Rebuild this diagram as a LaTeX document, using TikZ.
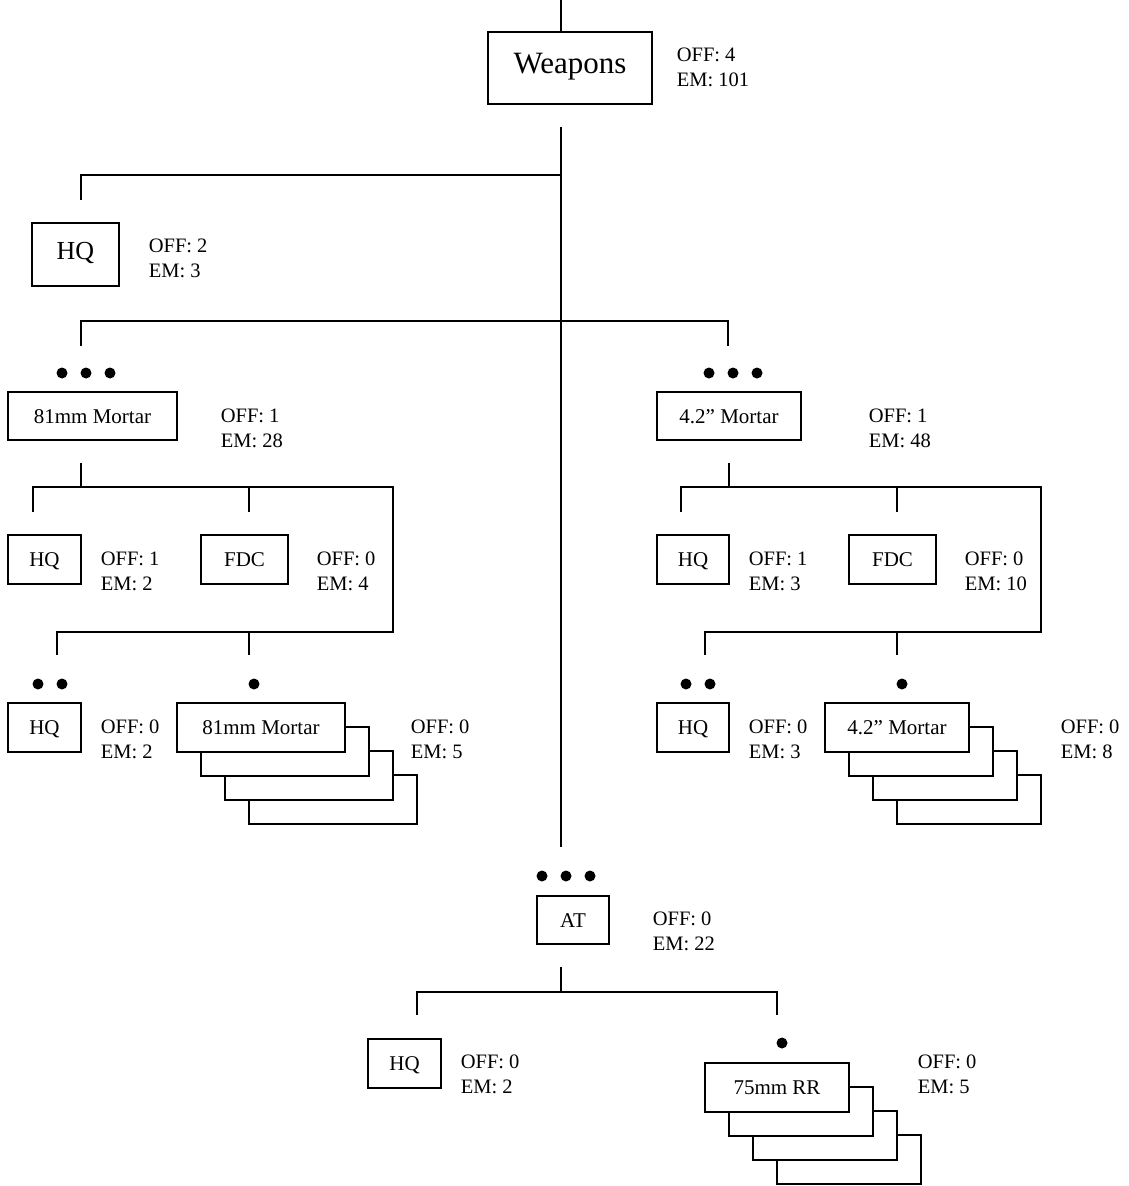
\documentclass[tikz,border=0pt]{standalone}
\usepackage{fontspec}
\setmainfont{Liberation Serif}
\usetikzlibrary{positioning}
\begin{document}
\begin{tikzpicture}[
  x=1pt, y=-1pt,
  line width=1.6pt,
  unitbox/.style={draw, fill=white, inner sep=0pt, minimum height=49pt, text height=14pt, text depth=0pt, font=\fontsize{21}{25}\selectfont},
  tally/.style={anchor=base west, align=left, inner sep=0pt, font=\fontsize{20.5}{25}\selectfont}
]
\useasboundingbox (0,0) rectangle (1128,1186);

% top level
\node[unitbox, minimum width=164pt, minimum height=72pt, text height=21pt, text depth=11pt, font=\fontsize{31}{37}\selectfont] (weap) at (570,68) {Weapons};
\node[tally] (weapn) at (676,86) {OFF: 4\\EM: 101};
\node[unitbox, minimum width=87pt, minimum height=63pt, text height=17.5pt, text depth=7pt, font=\fontsize{26}{31}\selectfont] (hq0) at (75.5,254.5) {HQ};
\node[tally] (hq0n) at (148,277) {OFF: 2\\EM: 3};

% 81mm mortar platoon
\node[unitbox, minimum width=169pt, minimum height=48pt] (m81) at (92.5,416) {81mm Mortar};
\node[tally] (m81n) at (220,447) {OFF: 1\\EM: 28};
\node[unitbox, minimum width=73pt] (hq81) at (44.5,559.5) {HQ};
\node[tally] (hq81n) at (100,590) {OFF: 1\\EM: 2};
\node[unitbox, minimum width=87pt] (fdc81) at (244.5,559.5) {FDC};
\node[tally] (fdc81n) at (316,590) {OFF: 0\\EM: 4};
\node[unitbox, minimum width=73pt] (hqs81) at (44.5,727.5) {HQ};
\node[tally] (hqs81n) at (100,758) {OFF: 0\\EM: 2};
\node[unitbox, minimum width=168pt] (sec81c) at (333,799.5) {};
\node[unitbox, minimum width=168pt] (sec81b) at (309,775.5) {};
\node[unitbox, minimum width=168pt] (sec81a) at (285,751.5) {};
\node[unitbox, minimum width=168pt] (sec81) at (261,727.5) {81mm Mortar};
\node[tally] (sec81n) at (410,758) {OFF: 0\\EM: 5};

% 4.2" mortar platoon
\node[unitbox, minimum width=144pt, minimum height=48pt] (m42) at (729,416) {4.2” Mortar};
\node[tally] (m42n) at (868,447) {OFF: 1\\EM: 48};
\node[unitbox, minimum width=72pt] (hq42) at (693,559.5) {HQ};
\node[tally] (hq42n) at (748,590) {OFF: 1\\EM: 3};
\node[unitbox, minimum width=87pt] (fdc42) at (892.5,559.5) {FDC};
\node[tally] (fdc42n) at (964,590) {OFF: 0\\EM: 10};
\node[unitbox, minimum width=72pt] (hqs42) at (693,727.5) {HQ};
\node[tally] (hqs42n) at (748,758) {OFF: 0\\EM: 3};
\node[unitbox, minimum width=144pt] (sec42c) at (969,799.5) {};
\node[unitbox, minimum width=144pt] (sec42b) at (945,775.5) {};
\node[unitbox, minimum width=144pt] (sec42a) at (921,751.5) {};
\node[unitbox, minimum width=144pt] (sec42) at (897,727.5) {4.2” Mortar};
\node[tally] (sec42n) at (1060,758) {OFF: 0\\EM: 8};

% antitank platoon
\node[unitbox, minimum width=72pt, minimum height=48pt] (at) at (573,920) {AT};
\node[tally] (atn) at (652,950) {OFF: 0\\EM: 22};
\node[unitbox, minimum width=73pt] (hqat) at (404.5,1063.5) {HQ};
\node[tally] (hqatn) at (460,1093) {OFF: 0\\EM: 2};
\node[unitbox, minimum width=144pt] (rrc) at (849,1159.5) {};
\node[unitbox, minimum width=144pt] (rrb) at (825,1135.5) {};
\node[unitbox, minimum width=144pt] (rra) at (801,1111.5) {};
\node[unitbox, minimum width=144pt] (rr) at (777,1087.5) {75mm RR\hspace{16pt}};
\node[tally] (rrn) at (917,1093) {OFF: 0\\EM: 5};

% size dots
\fill (62,373) circle (5.5) (86,373) circle (5.5) (110,373) circle (5.5);
\fill (709,373) circle (5.5) (733,373) circle (5.5) (757,373) circle (5.5);
\fill (38,684) circle (5.5) (62,684) circle (5.5) (254,684) circle (5.5);
\fill (686,684) circle (5.5) (710,684) circle (5.5) (902,684) circle (5.5);
\fill (542,876) circle (5.5) (566,876) circle (5.5) (590,876) circle (5.5);
\fill (782,1043) circle (5.5);

% connectors
\coordinate (wtop) at (561,0);
\coordinate (trunk) at (561,127);
\coordinate (trunkend) at (561,847);
\coordinate (j1) at (561,175);
\coordinate (j2) at (561,321);
\coordinate (hq0in) at (81,200);
\coordinate (m81in) at (81,346);
\coordinate (m42in) at (728,346);
\draw (wtop) -- (wtop |- weap.north);
\draw (trunk) -- (trunkend);
\draw (hq0in) |- (j1);
\draw (m81in) -- (m81in |- j2) -- (m42in |- j2) -- (m42in);

\coordinate (m81out) at (81,463);
\coordinate (r81) at (393,487);
\coordinate (lo81) at (393,632);
\coordinate (hq81in) at (33,512);
\coordinate (fdc81in) at (249,512);
\coordinate (hqs81in) at (57,655);
\coordinate (sec81in) at (249,655);
\draw (m81out) -- (m81out |- r81);
\draw (hq81in) |- (r81) -- (lo81) -| (hqs81in);
\draw (fdc81in) -- (fdc81in |- r81);
\draw (sec81in) -- (sec81in |- lo81);

\coordinate (m42out) at (729,463);
\coordinate (r42) at (1041,487);
\coordinate (lo42) at (1041,632);
\coordinate (hq42in) at (681,512);
\coordinate (fdc42in) at (897,512);
\coordinate (hqs42in) at (705,655);
\coordinate (sec42in) at (897,655);
\draw (m42out) -- (m42out |- r42);
\draw (hq42in) |- (r42) -- (lo42) -| (hqs42in);
\draw (fdc42in) -- (fdc42in |- r42);
\draw (sec42in) -- (sec42in |- lo42);

\coordinate (atout) at (561,967);
\coordinate (atbar) at (561,992);
\coordinate (hqatin) at (417,1015);
\coordinate (rrin) at (777,1015);
\draw (atout) -- (atbar);
\draw (hqatin) |- (atbar) -| (rrin);
\end{tikzpicture}
\end{document}
